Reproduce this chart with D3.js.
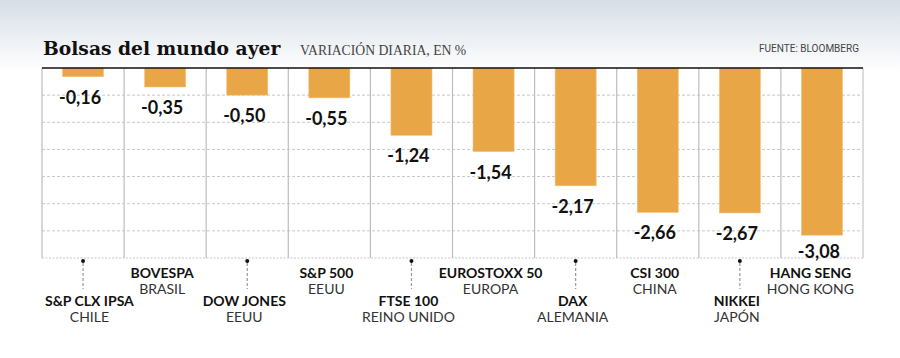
<!DOCTYPE html>
<html><head><meta charset="utf-8">
<script src="https://cdn.jsdelivr.net/npm/d3@7"></script>
<style>
html,body{margin:0;padding:0;background:#fff;}
svg{display:block;}
</style></head>
<body>
<svg id="c" width="900" height="358"></svg>
<script>
const indices = ["S&P CLX IPSA","BOVESPA","DOW JONES","S&P 500","FTSE 100","EUROSTOXX 50","DAX","CSI 300","NIKKEI","HANG SENG"];
const countries = ["CHILE","BRASIL","EEUU","EEUU","REINO UNIDO","EUROPA","ALEMANIA","CHINA","JAPÓN","HONG KONG"];
const changes = [-0.16,-0.35,-0.50,-0.55,-1.24,-1.54,-2.17,-2.66,-2.67,-3.08];
const valueLabels = ["-0,16","-0,35","-0,50","-0,55","-1,24","-1,54","-2,17","-2,66","-2,67","-3,08"];
const gridTicks = [-0.5,-1,-1.5,-2,-2.5,-3];

(function(){
const svg = d3.select("#c");
const W = 900, H = 358;
const L = 42, R = 863, T = 68, B = 258;

const defs = svg.append("defs");
const g = defs.append("linearGradient").attr("id","bg").attr("x1",0).attr("y1",0).attr("x2",0).attr("y2",1);
g.append("stop").attr("offset","0%").attr("stop-color","#d7dee6");
g.append("stop").attr("offset","100%").attr("stop-color","#ffffff");
svg.append("rect").attr("x",0).attr("y",0).attr("width",W).attr("height",72).attr("fill","url(#bg)");

const col = d3.scaleBand().domain(d3.range(indices.length)).range([L,R]).padding(0);
const bar = d3.scaleBand().domain(d3.range(indices.length)).range([L,R]).paddingInner(0.5).paddingOuter(0.25);
const y = d3.scaleLinear().domain([0,-3.5]).range([T,B]);

svg.append("rect").attr("x",L).attr("y",T).attr("width",R-L).attr("height",B-T).attr("fill","#fff");

svg.append("g").selectAll("line").data(gridTicks).join("line")
  .attr("x1",L).attr("x2",R).attr("y1",d=>y(d)).attr("y2",d=>y(d))
  .attr("stroke","#c8c8c8").attr("stroke-width",1).attr("stroke-dasharray","3,2");
svg.append("line").attr("x1",L).attr("x2",R).attr("y1",y(-3.5)).attr("y2",y(-3.5))
  .attr("stroke","#c8c8c8").attr("stroke-width",1.2).attr("stroke-dasharray","2,1.5");

const seps = d3.range(indices.length+1);
svg.append("g").selectAll("line").data(seps).join("line")
  .attr("x1",i=> i<indices.length ? col(i) : R).attr("x2",i=> i<indices.length ? col(i) : R)
  .attr("y1",T).attr("y2",B)
  .attr("stroke",i=> i===indices.length ? "#dcdcdc" : "#bdbdbd")
  .attr("stroke-width",i=> i===indices.length ? 2 : 1.2);

svg.append("g").selectAll("rect").data(changes).join("rect")
  .attr("x",(d,i)=>bar(i)).attr("width",bar.bandwidth())
  .attr("y",y(0)).attr("height",d=>y(d)-y(0))
  .attr("fill","#e9a646").attr("stroke","#f1c27a").attr("stroke-width",0.6);

svg.append("line").attr("x1",L).attr("x2",R).attr("y1",T).attr("y2",T)
  .attr("stroke","#111").attr("stroke-width",1.5);

svg.append("g").selectAll("text").data(changes).join("text")
  .attr("x",(d,i)=>bar(i)+bar.bandwidth()/2-3)
  .attr("y",d=>Math.min(y(d)+27,257.5))
  .attr("text-anchor","middle")
  .attr("font-family","Lato, 'Open Sans', sans-serif").attr("font-weight",700)
  .attr("font-size",18).attr("fill","#111")
  .text((d,i)=>valueLabels[i]);

const cats = svg.append("g");
indices.forEach((name,i)=>{
  const cx = bar(i)+bar.bandwidth()/2;
  const lower = i%2===0;
  const yName = lower ? 306 : 278;
  if(lower){
    cats.append("line").attr("x1",cx).attr("x2",cx).attr("y1",263).attr("y2",289)
      .attr("stroke","#999").attr("stroke-width",1.2).attr("stroke-dasharray","3,2");
    cats.append("circle").attr("cx",cx).attr("cy",261).attr("r",2).attr("fill","#111");
  }
  const grp = cats.append("g");
  const t1 = grp.append("text").attr("x",0).attr("y",yName).attr("text-anchor","middle")
    .attr("font-family","Lato, 'Open Sans', sans-serif").attr("font-weight",700).attr("font-size",14)
    .attr("fill","#111").text(name);
  const t2 = grp.append("text").attr("x",0).attr("y",yName+16).attr("text-anchor","middle")
    .attr("font-family","Lato, 'Open Sans', sans-serif").attr("font-weight",400).attr("font-size",14)
    .attr("fill","#333").text(countries[i]);
  const w = Math.max(t1.node().getComputedTextLength(), t2.node().getComputedTextLength());
  let x = cx - 3;
  x = Math.max(x, L + 3 + w/2);
  x = Math.min(x, R - 9 - w/2);
  grp.attr("transform",`translate(${x},0)`);
});

svg.append("text").attr("x",43).attr("y",55)
  .attr("font-family","'DejaVu Serif', serif").attr("font-weight",700).attr("font-size",18.7)
  .attr("fill","#111").text("Bolsas del mundo ayer");
svg.append("text").attr("x",300).attr("y",55)
  .attr("font-family","'Liberation Serif', serif").attr("font-size",13.7)
  .attr("fill","#444").text("VARIACIÓN DIARIA, EN %");
svg.append("text").attr("x",859).attr("y",52).attr("text-anchor","end")
  .attr("font-family","Roboto, sans-serif").attr("font-size",10)
  .attr("fill","#444").text("FUENTE: BLOOMBERG");
})();
</script>
</body></html>
